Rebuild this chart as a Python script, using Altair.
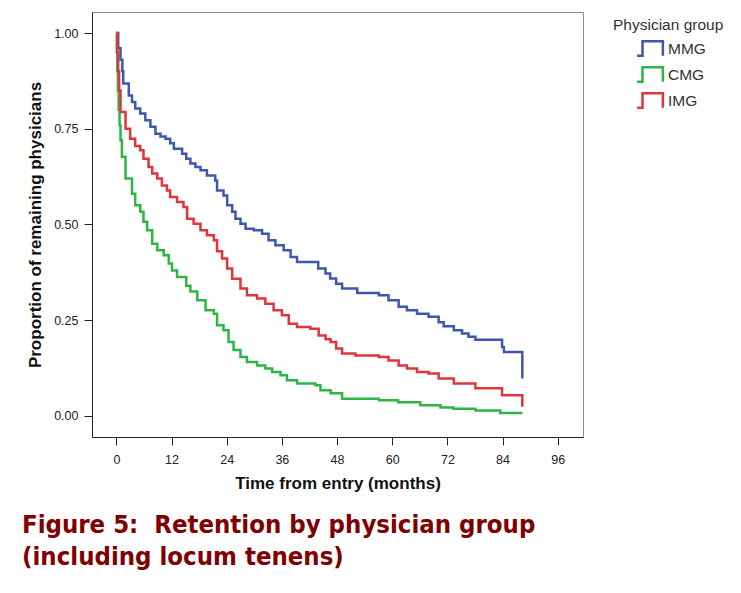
import altair as alt
import pandas as pd

# Kaplan-Meier retention curves (time in months, proportion remaining)
mmg_t = [0, 0.4, 0.9, 1.3, 1.5, 2.7, 3.4, 4.1, 5.2, 6.3, 7.4, 8.5, 9.6, 10.7, 11.7, 12.5,
         14.3, 15.2, 16.1, 17.2, 18.3, 19.7, 21.5, 21.9, 23.3, 24.1, 25.2, 25.9, 27.0, 28.1,
         29.9, 31.7, 33.1, 34.6, 36.4, 37.9, 39.3, 43.9, 45.5, 46.5, 47.8, 49.1, 52.4, 57.1,
         59.2, 61.4, 63.2, 65.4, 67.9, 70.1, 71.2, 73.4, 75.2, 76.6, 78.1, 83.9, 84.3, 88.3]
mmg_s = [1.0, 0.96, 0.93, 0.90, 0.868, 0.837, 0.82, 0.803, 0.79, 0.772, 0.755, 0.737, 0.73,
         0.724, 0.712, 0.698, 0.685, 0.672, 0.659, 0.65, 0.642, 0.628, 0.615, 0.589, 0.576,
         0.55, 0.533, 0.515, 0.502, 0.489, 0.485, 0.476, 0.459, 0.446, 0.433, 0.415, 0.402,
         0.385, 0.372, 0.359, 0.345, 0.333, 0.321, 0.315, 0.302, 0.285, 0.276, 0.267, 0.259,
         0.245, 0.234, 0.224, 0.215, 0.207, 0.199, 0.18, 0.167, 0.098]

cmg_t = [0, 0.1, 0.2, 0.35, 0.5, 0.7, 0.9, 1.2, 2.0, 3.4, 4.1, 5.2, 5.9, 6.7, 7.8, 8.9, 10.3,
         11.4, 12.1, 13.2, 15.2, 16.1, 17.6, 19.4, 21.2, 21.9, 23.3, 24.4, 25.5, 27.0, 28.4,
         30.6, 32.4, 33.9, 35.7, 37.1, 39.3, 43.3, 44.4, 46.6, 49.1, 57.1, 61.3, 66.1, 70.5,
         73.3, 78.1, 83.5, 88.3]
cmg_s = [1.0, 0.95, 0.9, 0.85, 0.8, 0.76, 0.72, 0.677, 0.62, 0.58, 0.55, 0.533, 0.507, 0.485,
         0.45, 0.433, 0.42, 0.398, 0.38, 0.363, 0.34, 0.325, 0.302, 0.276, 0.267, 0.237, 0.224,
         0.193, 0.172, 0.154, 0.141, 0.132, 0.124, 0.115, 0.106, 0.093, 0.085, 0.08, 0.067,
         0.059, 0.045, 0.041, 0.036, 0.028, 0.022, 0.019, 0.014, 0.008, 0.008]

img_t = [0, 0.2, 0.4, 0.6, 0.9, 2.0, 3.0, 4.1, 5.2, 5.9, 7.0, 7.8, 8.9, 9.9, 11.0, 11.7, 13.2,
         14.6, 15.4, 16.8, 18.3, 19.7, 21.2, 21.9, 23.0, 24.1, 25.2, 27.0, 28.4, 30.6, 32.4,
         34.2, 36.0, 37.5, 39.3, 42.2, 44.0, 45.5, 46.6, 47.8, 49.1, 52.0, 57.1, 59.2, 61.4,
         63.2, 65.4, 67.9, 70.1, 73.4, 78.1, 83.9, 88.3]
img_s = [1.0, 0.95, 0.9, 0.85, 0.794, 0.75, 0.724, 0.705, 0.694, 0.672, 0.65, 0.633, 0.62,
         0.602, 0.589, 0.572, 0.559, 0.546, 0.515, 0.502, 0.485, 0.472, 0.459, 0.43, 0.411,
         0.385, 0.358, 0.333, 0.315, 0.307, 0.293, 0.276, 0.263, 0.241, 0.232, 0.228, 0.21,
         0.2, 0.193, 0.176, 0.163, 0.158, 0.154, 0.145, 0.132, 0.124, 0.115, 0.111, 0.098,
         0.085, 0.072, 0.054, 0.024]

groups = ["MMG", "CMG", "IMG"]
colors = ["#3f57ad", "#2fb544", "#e0353a"]
x_ticks = [0, 12, 24, 36, 48, 60, 72, 84, 96]
y_ticks = [0, 0.25, 0.5, 0.75, 1.0]

rows = []
for g, ts, ss in [("MMG", mmg_t, mmg_s), ("CMG", cmg_t, cmg_s), ("IMG", img_t, img_s)]:
    for t, s in zip(ts, ss):
        rows.append({"group": g, "time": t, "surv": s})
df = pd.DataFrame(rows)

step_symbol = "M-1.12,0.62L-0.65,0.62L-0.65,-0.62L1.12,-0.62L1.12,0.62"

chart = alt.Chart(df).mark_line(interpolate="step-after", strokeWidth=2.5).encode(
    x=alt.X("time:Q", scale=alt.Scale(domain=[-5.3, 101.5], nice=False, zero=False),
            axis=alt.Axis(values=x_ticks, title="Time from entry (months)", format="d")),
    y=alt.Y("surv:Q", scale=alt.Scale(domain=[-0.055, 1.055], nice=False, zero=False),
            axis=alt.Axis(values=y_ticks, title="Proportion of remaining physicians", format=".2f")),
    color=alt.Color("group:N", scale=alt.Scale(domain=groups, range=colors),
                    sort=groups,
                    legend=alt.Legend(title="Physician group", orient="none",
                                      legendX=521, legendY=6,
                                      symbolType=step_symbol, symbolSize=530,
                                      symbolStrokeWidth=2.5, symbolFillColor="transparent",
                                      symbolOffset=24, labelOffset=5,
                                      titleFont="Liberation Sans", titleFontSize=15.5,
                                      titleFontWeight="normal", titleColor="#333",
                                      labelFont="Liberation Sans", labelFontSize=15.5,
                                      labelColor="#333", titlePadding=2, rowPadding=0)),
    order="time:Q",
).properties(
    width=491, height=425,
    autosize=alt.AutoSizeParams(type="none"),
    padding={"left": 84, "top": 4, "right": 150, "bottom": 150},
    title=alt.TitleParams(
        text=["Figure 5:\u00a0\u00a0Retention by physician group", "(including locum tenens)"],
        orient="bottom", anchor="start", frame="group", dx=-70, offset=21,
        font="DejaVu Sans Condensed", fontSize=25.5, fontWeight="bold",
        color="#800000", lineHeight=32),
).configure_view(
    stroke="#8c8c8c", strokeWidth=1
).configure_axis(
    grid=False, domainColor="#222", tickColor="#222", tickSize=8,
    labelFont="Liberation Sans", labelFontSize=12.5, labelColor="#222",
    titleFont="Liberation Sans", titleFontSize=17, titleFontWeight="bold", titleColor="#111",
).configure_axisX(
    labelPadding=8, titlePadding=10
).configure_axisY(
    labelPadding=6, titlePadding=9
)

chart.save("out.html", embed_options={"renderer": "svg", "actions": False})
